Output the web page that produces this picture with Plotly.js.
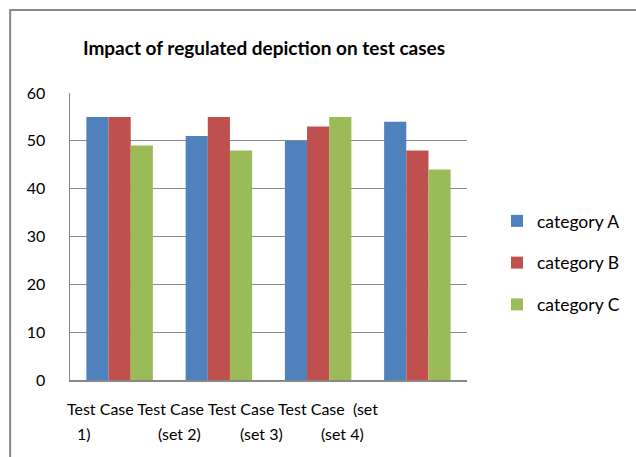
<!DOCTYPE html>
<html>
<head>
<meta charset="utf-8">
<script src="https://cdn.plot.ly/plotly-3.0.1.min.js"></script>
<style>html,body{margin:0;padding:0;background:#fff;}#chart{width:636px;height:457px;}</style>
</head>
<body>
<div id="chart"></div>
<script>
const categories = ["Test Case (set 1)", "Test Case (set 2)", "Test Case (set 3)", "Test Case (set 4)"];
const seriesNames = ["category A", "category B", "category C"];
const valuesA = [55, 51, 50, 54];
const valuesB = [55, 55, 53, 48];
const valuesC = [49, 48, 55, 44];
const tickLine1 = "Test Case Test Case Test Case Test Case  (set";
const tickLine2 = ["1)", "(set 2)", "(set 3)", "(set 4)"];
const yTicks = [0, 10, 20, 30, 40, 50, 60];

const colors = ["#4F81BD", "#C0504D", "#9BBB59"];
const font = "Lato, 'Open Sans', sans-serif";

const allValues = [valuesA, valuesB, valuesC];
const traces = allValues.map((v, i) => ({
  type: "bar",
  x: categories,
  y: v,
  name: seriesNames[i],
  legendgroup: "g" + i,
  marker: {color: colors[i], line: {width: 0}},
  hoverinfo: "x+y+name"
}));

const W = 636, H = 457;
const L = 70, R = 168, T = 93, B = 77;
const pw = W - L - R, ph = H - T - B;
const px = v => (v - L) / pw;
const py = v => 1 - (v - T) / ph;

const line2Centers = [84, 180, 262, 343];
const annotations = [
  {xref: "paper", yref: "paper", x: px(65), y: py(408), xanchor: "left", yanchor: "middle",
   text: tickLine1, showarrow: false, font: {family: font, size: 16, color: "#000"}}
].concat(tickLine2.map((t, i) => ({
  xref: "paper", yref: "paper", x: px(line2Centers[i]), y: py(433), xanchor: "center", yanchor: "middle",
  text: t, showarrow: false, font: {family: font, size: 16, color: "#000"}
})));

const layout = {
  width: W, height: H,
  margin: {l: L, r: R, t: T, b: B, pad: 0},
  paper_bgcolor: "#fff",
  plot_bgcolor: "#fff",
  font: {family: font, size: 16, color: "#000"},
  title: {
    text: "<b>Impact of regulated depiction on test cases</b>",
    font: {family: font, size: 19, color: "#000"},
    x: 264 / W, xanchor: "center", y: 1 - 48 / H, yanchor: "middle"
  },
  barmode: "group",
  bargap: 0.33,
  bargroupgap: 0,
  xaxis: {
    type: "category",
    showticklabels: false,
    showline: true, linecolor: "#888", linewidth: 1.5,
    showgrid: false, zeroline: false, fixedrange: true
  },
  yaxis: {
    range: [0, 60],
    tickvals: yTicks,
    ticktext: yTicks.map(String),
    showline: true, linecolor: "#888", linewidth: 1.5,
    showgrid: true, gridcolor: "#8c8c8c", gridwidth: 1.2,
    zeroline: false,
    ticks: "", ticklabelstandoff: 20,
    tickfont: {family: font, size: 16, color: "#000"},
    fixedrange: true
  },
  legend: {
    x: px(497), xanchor: "left",
    y: py(203), yanchor: "top",
    font: {family: font, size: 17.5, color: "#000"},
    tracegroupgap: 16,
    itemwidth: 30,
    bgcolor: "rgba(0,0,0,0)"
  },
  annotations: annotations,
  shapes: [{
    type: "rect", xref: "paper", yref: "paper",
    x0: px(10), x1: px(700), y0: py(520), y1: py(10),
    line: {color: "#888", width: 2}, fillcolor: "rgba(0,0,0,0)", layer: "below"
  }]
};

Plotly.newPlot("chart", traces, layout, {displayModeBar: false, staticPlot: true});
</script>
</body>
</html>
